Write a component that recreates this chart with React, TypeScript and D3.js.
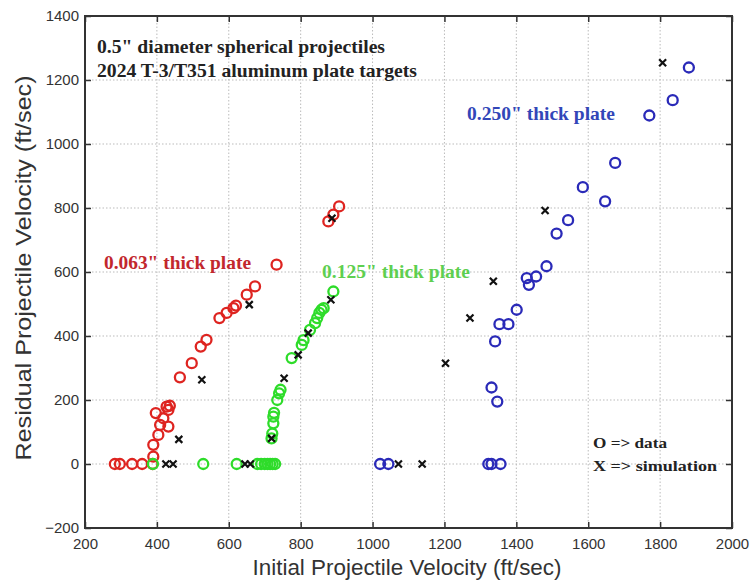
import React, { useEffect, useRef } from 'react'
import * as d3 from 'd3'

// initial velocity, residual velocity (ft/sec)
const plate063: [number, number][] = [
  [283, 0], [297, 0], [331, 0], [359, 0], [388, 0],
  [390, 23], [390, 60], [404, 91], [409, 122], [432, 117], [418, 143],
  [397, 159], [432, 169], [427, 179], [436, 182],
  [464, 271], [497, 315], [522, 367], [538, 388],
  [574, 456], [594, 472], [613, 487], [620, 495], [650, 529], [673, 555],
  [733, 623], [877, 758], [891, 779], [907, 805],
]
const plate125: [number, number][] = [
  [389, 0], [529, 0], [622, 0], [680, 0], [690, 0], [700, 0], [708, 0], [715, 0], [722, 0], [729, 0],
  [719, 80], [721, 95], [724, 127], [724, 148], [726, 160], [735, 200], [740, 221], [744, 232],
  [775, 331], [803, 372], [808, 387], [826, 419], [840, 440], [846, 456],
  [852, 472], [858, 482], [864, 487], [891, 539],
]
const plate250: [number, number][] = [
  [1021, 0], [1044, 0], [1322, 0], [1331, 0], [1356, 0],
  [1331, 239], [1347, 195], [1341, 383], [1353, 437], [1378, 437], [1401, 482],
  [1429, 581], [1435, 560], [1455, 586], [1484, 618],
  [1512, 720], [1544, 762], [1647, 821], [1585, 865], [1675, 941],
  [1770, 1089], [1835, 1137], [1880, 1239],
]
const simulation: [number, number][] = [
  [425, 0], [445, 0], [461, 77], [525, 263], [657, 498],
  [645, 0], [660, 0], [719, 80], [754, 268], [793, 341], [821, 409], [884, 513], [887, 768],
  [1072, 0], [1138, 0], [1203, 315], [1271, 456], [1336, 571], [1480, 792], [1807, 1254],
]
const xTicks = [200, 400, 600, 800, 1000, 1200, 1400, 1600, 1800, 2000]
const yTicks = [-200, 0, 200, 400, 600, 800, 1000, 1200, 1400]

const RED = '#de2420'
const GREEN = '#2edc2a'
const BLUE = '#2a2ab8'

export default function App() {
  const ref = useRef<SVGSVGElement>(null)

  useEffect(() => {
    const svg = d3.select(ref.current)
    svg.selectAll('*').remove()
    const left = 85, right = 732, top = 16, bottom = 528
    const x = d3.scaleLinear().domain([200, 2000]).range([left, right])
    const y = d3.scaleLinear().domain([-200, 1400]).range([bottom, top])

    svg.append('rect').attr('width', 751).attr('height', 580).attr('fill', '#fff')

    // grid
    const grid = svg.append('g').attr('stroke', '#bbb').attr('stroke-dasharray', '1.5 2').attr('stroke-width', 1)
    grid.selectAll('line.gx').data(xTicks.slice(1, -1)).join('line')
      .attr('x1', d => x(d)).attr('x2', d => x(d)).attr('y1', top).attr('y2', bottom)
    grid.selectAll('line.gy').data(yTicks.slice(1, -1)).join('line')
      .attr('x1', left).attr('x2', right).attr('y1', d => y(d)).attr('y2', d => y(d))

    // axes (inward ticks, box)
    const tickFont = (g: any) => g.selectAll('text')
      .attr('font-family', 'Liberation Sans, Arial, sans-serif').attr('font-size', 15).attr('fill', '#333')
    svg.append('g').attr('transform', `translate(0,${bottom})`)
      .call(d3.axisBottom(x).tickValues(xTicks).tickSizeInner(-6).tickSizeOuter(0).tickPadding(10).tickFormat(d3.format('d')))
      .call(tickFont)
    svg.append('g').attr('transform', `translate(${left},0)`)
      .call(d3.axisLeft(y).tickValues(yTicks).tickSizeInner(-6).tickSizeOuter(0).tickPadding(6).tickFormat(d3.format('d')))
      .call(tickFont)
    svg.append('g').attr('transform', `translate(0,${top})`)
      .call(d3.axisTop(x).tickValues(xTicks).tickSizeInner(-6).tickSizeOuter(0).tickFormat(() => ''))
    svg.append('g').attr('transform', `translate(${right},0)`)
      .call(d3.axisRight(y).tickValues(yTicks).tickSizeInner(-6).tickSizeOuter(0).tickFormat(() => ''))
    svg.selectAll('.domain').remove()
    svg.selectAll('.tick line').attr('stroke', '#333').attr('stroke-width', 1.5)
    svg.append('rect').attr('x', left).attr('y', top).attr('width', right - left).attr('height', bottom - top)
      .attr('fill', 'none').attr('stroke', '#333').attr('stroke-width', 2)

    // data circles
    const series: [[number, number][], string][] = [[plate063, RED], [plate125, GREEN], [plate250, BLUE]]
    series.forEach(([pts, color]) => {
      svg.append('g').selectAll('circle').data(pts).join('circle')
        .attr('cx', d => x(d[0])).attr('cy', d => y(d[1])).attr('r', 5)
        .attr('fill', 'none').attr('stroke', color).attr('stroke-width', 2.3)
    })

    // simulation crosses
    svg.append('g').selectAll('path').data(simulation).join('path')
      .attr('d', d => {
        const cx = x(d[0]), cy = y(d[1]), s = 3.5
        return `M${cx - s},${cy - s}L${cx + s},${cy + s}M${cx - s},${cy + s}L${cx + s},${cy - s}`
      })
      .attr('stroke', '#111').attr('stroke-width', 2.2)

    // annotations
    const serif = 'Liberation Serif, Times New Roman, serif'
    const note = (tx: number, ty: number, text: string, color: string, size: number, len: number) =>
      svg.append('text').attr('x', tx).attr('y', ty).text(text)
        .attr('font-family', serif).attr('font-weight', 'bold').attr('font-size', size).attr('fill', color)
        .attr('textLength', len).attr('lengthAdjust', 'spacingAndGlyphs')
    note(97, 53, '0.5" diameter spherical projectiles', '#222', 18, 288)
    note(97, 77, '2024 T-3/T351 aluminum plate targets', '#222', 18, 320)
    note(467, 120, '0.250" thick plate', '#3246b8', 18, 148)
    note(104, 269, '0.063" thick plate', '#c2272d', 18, 147)
    note(322, 278, '0.125" thick plate', '#5ecf50', 18, 148)
    note(593, 448, 'O => data', '#222', 15, 74)
    note(593, 471, 'X => simulation', '#222', 15, 124)

    // axis titles
    const sans = 'Liberation Sans, Arial, sans-serif'
    svg.append('text').attr('x', 407).attr('y', 575).attr('text-anchor', 'middle')
      .attr('font-family', sans).attr('font-size', 22).attr('fill', '#333')
      .attr('textLength', 309).attr('lengthAdjust', 'spacingAndGlyphs')
      .text('Initial Projectile Velocity (ft/sec)')
    svg.append('text').attr('transform', `translate(31,268) rotate(-90)`)
      .attr('text-anchor', 'middle').attr('font-family', sans).attr('font-size', 22).attr('fill', '#333')
      .attr('textLength', 385).attr('lengthAdjust', 'spacingAndGlyphs')
      .text('Residual Projectile Velocity (ft/sec)')
  }, [])

  return <svg ref={ref} width={751} height={580} style={{ position: 'absolute', left: 0, top: 0 }} />
}
